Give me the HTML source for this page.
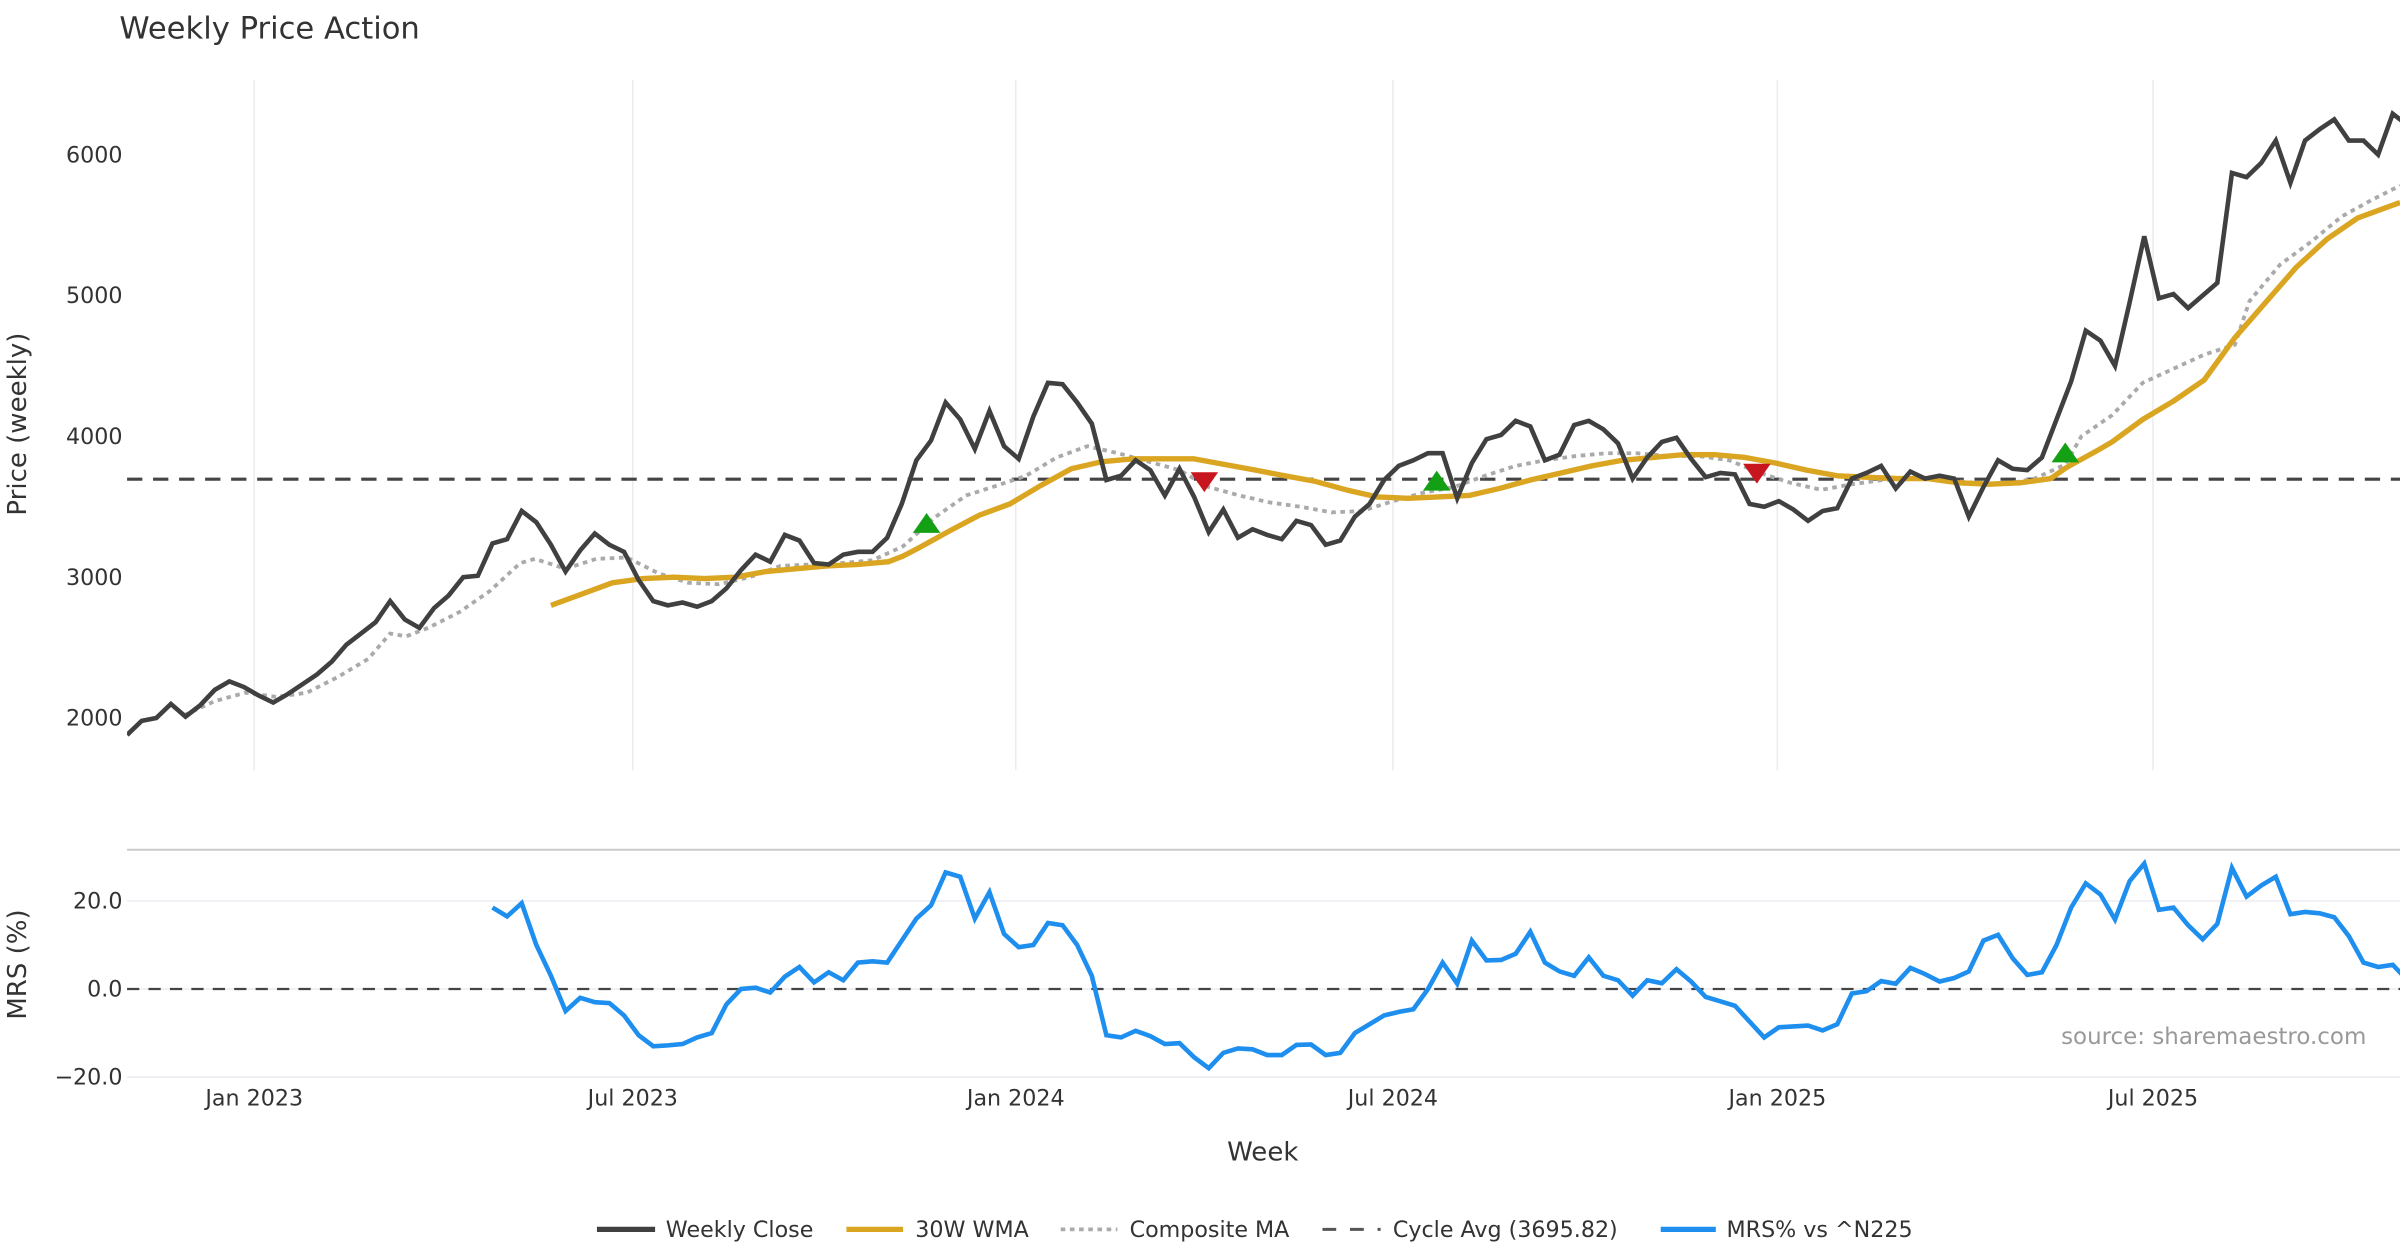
<!DOCTYPE html>
<html><head><meta charset="utf-8"><style>
html,body{margin:0;padding:0;background:#fff;}
svg{display:block;font-family:"DejaVu Sans","Liberation Sans",sans-serif;}
</style></head><body>
<svg id="chart" width="2400" height="1260" viewBox="0 0 1568 823" preserveAspectRatio="none" xmlns="http://www.w3.org/2000/svg">
<defs><clipPath id="clipMain"><rect x="83" y="40" width="1485" height="470"/></clipPath>
<clipPath id="clipLow"><rect x="83" y="560" width="1485" height="150"/></clipPath></defs>
<text x="78" y="25" font-size="20" fill="#333">Weekly Price Action</text>
<g id="grid"></g>
<g id="main" clip-path="url(#clipMain)"></g>
<line x1="83" x2="1568" y1="555" y2="555" stroke="#ccc" stroke-width="1.3"/>
<g id="low" clip-path="url(#clipLow)"></g>
<g id="axes"></g>
<text transform="translate(17,277) rotate(-90)" text-anchor="middle" font-size="17" fill="#333">Price (weekly)</text>
<text transform="translate(17,630) rotate(-90)" text-anchor="middle" font-size="17" fill="#333">MRS (%)</text>
<text x="825" y="758" text-anchor="middle" font-size="17" fill="#333">Week</text>
<text x="1546" y="682" text-anchor="end" font-size="15" fill="#999">source: sharemaestro.com</text>
<g font-size="14.5" fill="#333">
<g><line x1="390" x2="428" y1="803" y2="803" stroke="#404040" stroke-width="3.5"/><text x="435" y="808">Weekly Close</text></g>
<g><line x1="553" x2="590" y1="803" y2="803" stroke="#DAA520" stroke-width="3.5"/><text x="598" y="808">30W WMA</text></g>
<g><line x1="693" x2="730" y1="803" y2="803" stroke="#aaa" stroke-width="2.5" stroke-dasharray="3 3"/><text x="738" y="808">Composite MA</text></g>
<g><line x1="864" x2="902" y1="803" y2="803" stroke="#555" stroke-width="2" stroke-dasharray="9 9"/><text x="910" y="808">Cycle Avg (3695.82)</text></g>
<g><line x1="1085" x2="1121" y1="803" y2="803" stroke="#1E8FEF" stroke-width="3.5"/><text x="1128" y="808">MRS% vs ^N225</text></g>
</g>
</svg>
<script>
const closeVals=[1880,1980,2000,2100,2010,2090,2200,2260,2220,2160,2110,2170,2240,2310,2400,2520,2600,2680,2830,2700,2640,2780,2870,3000,3010,3240,3270,3470,3390,3230,3040,3190,3310,3230,3180,2980,2830,2800,2820,2790,2830,2920,3050,3160,3110,3300,3260,3100,3090,3160,3180,3180,3280,3520,3830,3970,4240,4120,3910,4180,3930,3840,4140,4380,4370,4240,4090,3690,3720,3830,3760,3580,3770,3570,3320,3480,3280,3340,3300,3270,3400,3370,3230,3260,3430,3520,3690,3790,3830,3880,3880,3560,3810,3980,4010,4110,4070,3830,3870,4080,4110,4050,3950,3700,3850,3960,3990,3840,3710,3740,3730,3520,3500,3540,3480,3400,3470,3490,3700,3740,3790,3630,3750,3700,3720,3700,3430,3640,3830,3770,3760,3850,4120,4390,4750,4680,4500,4950,5420,4980,5010,4910,5000,5090,5870,5840,5940,6100,5800,6100,6180,6250,6100,6100,6000,6290,6210];
const wmaWeeks=[29.0,31.1,33.2,35.3,37.4,39.5,41.6,43.7,45.8,47.9,50.0,52.1,53.1,54.2,56.3,58.3,60.4,62.5,64.6,66.7,68.8,70.9,73.0,75.1,77.2,79.2,81.3,83.4,85.5,87.6,89.7,91.8,93.9,96.0,98.1,100.2,102.3,104.4,106.5,108.6,110.7,112.8,114.9,117.0,119.0,121.1,123.2,125.3,127.4,129.5,131.6,132.7,134.8,135.8,137.9,140.0,142.1,144.2,146.3,148.4,150.5,152.6,155.5];
const wmaVals=[2800,2880,2960,2990,3000,2990,3000,3040,3060,3080,3090,3110,3150,3210,3330,3440,3520,3650,3770,3820,3840,3840,3840,3800,3760,3720,3680,3620,3570,3560,3570,3580,3630,3690,3740,3790,3830,3850,3870,3870,3850,3810,3760,3720,3710,3700,3700,3670,3660,3670,3700,3780,3900,3960,4120,4250,4400,4700,4950,5200,5400,5550,5660];
const compWeeks=[3.9,6.0,8.1,10.2,12.3,14.4,16.5,18.0,19.1,20.6,22.7,24.8,26.9,27.9,30.0,32.1,34.2,36.3,38.4,40.5,42.6,44.7,46.8,48.9,51.0,53.1,55.2,57.4,59.5,61.5,63.6,65.7,67.8,69.9,72.0,74.0,76.1,78.2,80.3,82.4,84.5,86.6,88.7,90.8,92.9,95.0,97.0,99.1,101.2,103.3,105.4,107.5,109.6,111.7,113.8,115.9,118.0,120.1,122.2,124.3,126.4,128.5,130.5,132.6,133.7,135.8,137.9,140.0,142.1,144.2,145.2,147.3,149.4,151.5,153.6,155.5];
const compVals=[2020,2120,2180,2150,2180,2290,2420,2600,2580,2640,2750,2900,3100,3130,3060,3130,3140,3030,2960,2950,3000,3080,3090,3100,3120,3220,3420,3580,3650,3720,3850,3930,3880,3820,3760,3640,3580,3530,3500,3460,3470,3540,3600,3640,3720,3790,3830,3860,3880,3880,3860,3860,3830,3740,3670,3620,3660,3690,3700,3690,3670,3660,3700,3800,4000,4150,4380,4480,4580,4650,4960,5220,5380,5560,5680,5780];
const mrsStart=25;
const mrsVals=[18.5,16.5,19.5,10,3,-5,-2,-3,-3.2,-6,-10.5,-13,-12.8,-12.5,-11,-10,-3.5,0,0.3,-0.8,2.8,5,1.5,3.8,2,6,6.3,6,11,16,19,26.5,25.5,16,22,12.5,9.5,10,15,14.5,10,3,-10.5,-11,-9.5,-10.7,-12.5,-12.3,-15.5,-18,-14.5,-13.5,-13.7,-15,-15,-12.7,-12.6,-15,-14.5,-10,-8,-6,-5.2,-4.6,0,6,1.2,11,6.5,6.6,8,13,6,4,3,7.2,3,2,-1.5,2,1.3,4.5,1.7,-1.8,-2.8,-3.8,-7.4,-11,-8.7,-8.5,-8.3,-9.4,-8,-1,-0.5,1.8,1.2,4.8,3.4,1.7,2.5,4,11,12.3,7,3.2,3.8,10,18.5,24,21.5,15.8,24.5,28.5,18,18.5,14.5,11.3,14.8,27.5,21,23.5,25.5,17,17.5,17.2,16.3,12,6,5,5.5,2];
const buyWeeks=[54.7,89.6,132.6];
const buyVals=[3380,3680,3880];
const sellWeeks=[73.7,111.5];
const sellVals=[3680,3740];
const cycleAvg=3695.82;
const priceTicks=[2000,3000,4000,5000,6000];
const mrsTicks=[20,0,-20];
const mrsTickLabels=["20.0","0.0","\u221220.0"];
const dateTickWeeks=[8.7,34.6,60.8,86.6,112.9,138.6];
const dateTickLabels=["Jan 2023","Jul 2023","Jan 2024","Jul 2024","Jan 2025","Jul 2025"];

const NS="http://www.w3.org/2000/svg";
const X=i=>83+i*9.55;
const Y=v=>469-(v-2000)*0.092;
const YM=v=>646-v*2.875;
function mk(tag,attrs,parent){const e=document.createElementNS(NS,tag);for(const k in attrs)e.setAttribute(k,attrs[k]);parent.appendChild(e);return e;}
const grid=document.getElementById('grid'),main=document.getElementById('main'),low=document.getElementById('low'),axes=document.getElementById('axes');

dateTickWeeks.forEach((w,i)=>{
  const g1=mk('line',{x1:X(w),x2:X(w),y1:52,y2:503,stroke:'#ececef','stroke-width':1},grid);
  
  
  const t=mk('text',{x:X(w),y:722,'text-anchor':'middle','font-size':14.5,fill:'#333'},axes);
  t.textContent=dateTickLabels[i];
  
  
});
priceTicks.forEach(v=>{
  const t=mk('text',{x:80,y:Y(v)+5,'text-anchor':'end','font-size':14.5,fill:'#333'},axes);
  t.textContent=v;
  
  
});
mrsTicks.forEach((v,i)=>{
  const g=mk('line',{x1:83,x2:1568,y1:YM(v),y2:YM(v),stroke:'#ececf2','stroke-width':1},grid);
  
  
  const t=mk('text',{x:80,y:YM(v)+5,'text-anchor':'end','font-size':14.5,fill:'#333'},axes);
  t.textContent=mrsTickLabels[i];
  
  
});

const cl=mk('line',{x1:83,x2:1568,y1:Y(cycleAvg),y2:Y(cycleAvg),stroke:'#444','stroke-width':2,'stroke-dasharray':'10 7'},main);



const comp=mk('polyline',{points:compWeeks.map((w,i)=>X(w)+','+Y(compVals[i])).join(' '),fill:'none',stroke:'#aaa','stroke-width':2.5,'stroke-dasharray':'3 3'},main);



const wma=mk('polyline',{points:wmaWeeks.map((w,i)=>X(w)+','+Y(wmaVals[i])).join(' '),fill:'none',stroke:'#DAA520','stroke-width':3.5,'stroke-linejoin':'round'},main);



const cls=mk('polyline',{points:closeVals.map((v,i)=>X(i)+','+Y(v)).join(' '),fill:'none',stroke:'#404040','stroke-width':3,'stroke-linejoin':'miter'},main);



buyWeeks.forEach((w,i)=>{
  const x=X(w),y=Y(buyVals[i]);
  const p=mk('polygon',{points:`${x-9},${y+6} ${x+9},${y+6} ${x},${y-7}`,fill:'#14a014'},main);
  
  
});
sellWeeks.forEach((w,i)=>{
  const x=X(w),y=Y(sellVals[i]);
  const p=mk('polygon',{points:`${x-9},${y-6} ${x+9},${y-6} ${x},${y+7}`,fill:'#c8161e'},main);
  
  
});

const zl=mk('line',{x1:83,x2:1568,y1:YM(0),y2:YM(0),stroke:'#444','stroke-width':1.5,'stroke-dasharray':'8 6'},low);


const mrs=mk('polyline',{points:mrsVals.map((v,i)=>X(mrsStart+i)+','+YM(v)).join(' '),fill:'none',stroke:'#1E8FEF','stroke-width':3,'stroke-linejoin':'miter'},low);


</script>
</body></html>
